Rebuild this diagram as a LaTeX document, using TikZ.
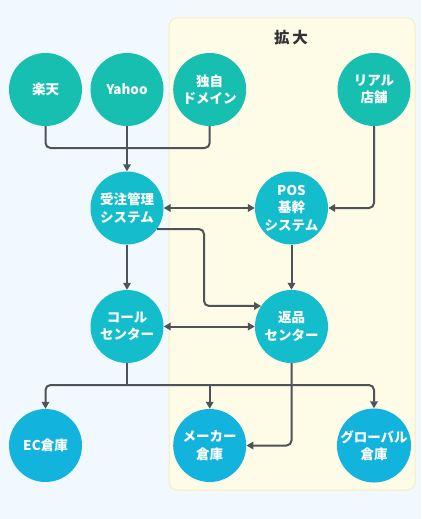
\documentclass[tikz,border=0pt]{standalone}
\usepackage{fontspec}
\setmainfont{Noto Sans CJK JP}
\usetikzlibrary{arrows.meta,calc}
\definecolor{bgc}{HTML}{F2F9FE}
\definecolor{boxfill}{HTML}{FEFCE6}
\definecolor{boxborder}{HTML}{F5EDC4}
\definecolor{cA}{HTML}{17BFB1}
\definecolor{cB}{HTML}{14BDCB}
\definecolor{cC}{HTML}{12B3DC}
\definecolor{linec}{HTML}{4D5358}
\definecolor{titlec}{HTML}{333333}
\tikzset{
  circ/.style={circle, minimum size=73pt, inner sep=0pt, text=white, align=center,
    font=\bfseries\fontsize{13.5}{17.5}\selectfont},
  rowA/.style={circ, fill=cA},
  rowB/.style={circ, fill=cB},
  rowC/.style={circ, fill=cC},
  line/.style={draw=linec, line width=2pt, rounded corners=5pt},
  arr/.style={line, -{Triangle[length=7pt,width=7.5pt]}},
  darr/.style={line, {Triangle[length=7pt,width=7.5pt]}-{Triangle[length=7pt,width=7.5pt]}},
}
\begin{document}
\begin{tikzpicture}[x=1pt,y=-1pt]
\fill[bgc] (0,0) rectangle (421,519);
\useasboundingbox (0,0) rectangle (421,519);
\draw[fill=boxfill, draw=boxborder, line width=1pt, rounded corners=8pt] (169,18) rectangle (415,490);
\node[text=titlec, font=\bfseries\fontsize{15.5}{18}\selectfont] (title) at (291,38) {拡\,大};

\node[rowA] (rakuten) at (45.5,89.5) {楽天};
\node[rowA] (yahoo) at (127,89.5) {Yahoo};
\node[rowA] (dokuji) at (209.7,89.5) {独自\\ドメイン};
\node[rowA] (real) at (374,89.5) {リアル\\店舗};

\node[rowB] (juchu) at (127,208) {受注管理\\システム};
\node[rowB] (pos) at (291.5,208) {POS\\基幹\\システム};
\node[rowB] (call) at (127,326.5) {コール\\センター};
\node[rowB] (henpin) at (291.5,326.5) {返品\\センター};

\node[rowC] (ec) at (45.5,445.5) {EC倉庫};
\node[rowC] (maker) at (209.7,445.5) {メーカー\\倉庫};
\node[rowC] (global) at (374,445.5) {グローバル\\倉庫};

\coordinate (j1) at (127,148);
\coordinate (bendx) at (204,260);
\coordinate (bus) at (127,385);

\draw[line] (rakuten.south) |- (j1) -| (dokuji.south);
\draw[arr] (yahoo.south) -- (juchu.north);
\draw[arr] (real.south) |- (pos.east);
\draw[darr] (juchu.east) -- (pos.west);
\draw[arr] (juchu.-35) -| (bendx) |- (henpin.146);
\draw[arr] (pos.south) -- (henpin.north);
\draw[arr] (juchu.south) -- (call.north);
\draw[darr] (call.east) -- (henpin.west);
\draw[line] (call.south) -- (bus);
\draw[arr] (bus) -| (ec.north);
\draw[arr] (bus) -| (global.north);
\draw[arr] (bus -| maker.north) -- (maker.north);
\draw[arr] (henpin.south) |- (maker.east);
\end{tikzpicture}
\end{document}
